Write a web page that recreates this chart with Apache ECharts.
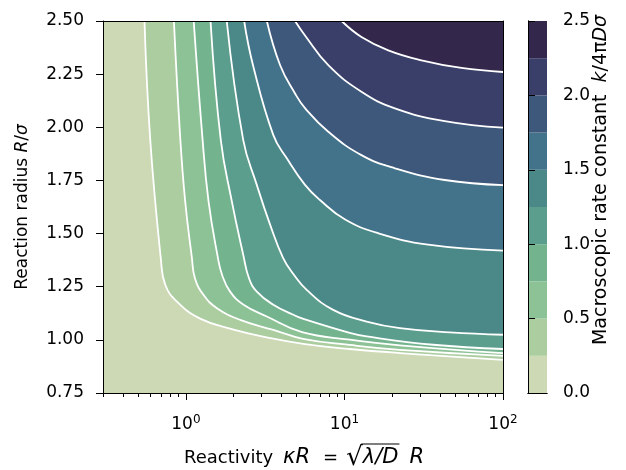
<!DOCTYPE html>
<html>
<head>
<meta charset="utf-8">
<script src="https://cdn.jsdelivr.net/npm/echarts@6/dist/echarts.min.js"></script>
<style>
  html, body { margin: 0; padding: 0; background: #ffffff; }
  #chart { width: 626px; height: 470px; }
</style>
</head>
<body>
<div id="chart"></div>
<script>
// contour levels of k/4πDσ, band colours low -> high
const levels = [0.25, 0.5, 0.75, 1.0, 1.25, 1.5, 1.75, 2.0, 2.25];
const cbBounds = [0, 0.25, 0.5, 0.75, 1.0, 1.25, 1.5, 1.75, 2.0, 2.25, 2.5];
const bandColors = ['#cdd9b5', '#abcd9f', '#8dc296', '#73b48f', '#5b9e8d',
                    '#4b8988', '#43738a', '#3e587c', '#3a3f69', '#33284c'];
const xMajorTicks = [1, 10, 100];
const xMinorTicks = [0.3, 0.4, 0.5, 0.6, 0.7, 0.8, 0.9,
                     2, 3, 4, 5, 6, 7, 8, 9,
                     20, 30, 40, 50, 60, 70, 80, 90];

// contour lines, [kappaR, R/sigma]
const contour025 = [[0.548, 2.5], [0.596, 1.94], [0.696, 1.376], [0.741, 1.259], [0.878, 1.18],
                    [1.23, 1.10], [2.0, 1.048], [3.24, 1.012], [5.64, 0.980], [10.8, 0.957],
                    [22.4, 0.938], [100, 0.906]];
const contour050 = [[0.84, 2.5], [0.92, 1.955], [0.99, 1.65], [1.09, 1.388], [1.14, 1.29],
                    [1.29, 1.212], [1.57, 1.149], [2.2, 1.094], [3.56, 1.047], [5.48, 1.005],
                    [10.8, 0.976], [22.4, 0.953], [100, 0.925]];
const contour075 = [[1.12, 2.5], [1.27, 1.955], [1.39, 1.65], [1.59, 1.388], [1.69, 1.306],
                    [1.90, 1.227], [2.31, 1.165], [3.24, 1.11], [5.4, 1.036], [10.8, 1.001],
                    [22.4, 0.9745], [100, 0.938]];
const contour100 = [[1.43, 2.5], [1.66, 1.94], [1.95, 1.65], [2.30, 1.40], [2.50, 1.29],
                    [2.80, 1.227], [3.56, 1.165], [4.76, 1.118], [5.40, 1.101], [10.8, 1.033],
                    [13.8, 1.016], [36.3, 0.977], [100, 0.957]];
const contour125 = [[1.81, 2.5], [2.3, 1.94], [2.8, 1.729], [3.4, 1.541], [4.1, 1.386],
                    [4.76, 1.310], [5.78, 1.235], [8.49, 1.141], [13.8, 1.086], [22.4, 1.055],
                    [46.2, 1.035], [100, 1.024]];
const contour150 = [[2.33, 2.5], [2.65, 2.292], [3.56, 1.963], [4.33, 1.854], [5.64, 1.729],
                    [7.01, 1.658], [10.1, 1.566], [16.3, 1.502], [33.7, 1.448], [100, 1.42]];
const contour175 = [[3.24, 2.5], [3.93, 2.292], [4.88, 2.159], [5.64, 2.09], [7.91, 1.979],
                    [12.8, 1.869], [20.8, 1.807], [42.9, 1.752], [100, 1.728]];
const contour200 = [[4.88, 2.5], [5.64, 2.432], [7.91, 2.292], [12.8, 2.167], [20.8, 2.089],
                    [42.9, 2.029], [100, 1.998]];
const contour225 = [[9.6, 2.5], [12.8, 2.425], [18.9, 2.362], [30.6, 2.315], [54.7, 2.279],
                    [100, 2.26]];
const contours = [contour025, contour050, contour075, contour100, contour125,
                  contour150, contour175, contour200, contour225];

const FONT = 'DejaVu Sans';
const FS = 17;
const chart = echarts.init(document.getElementById('chart'));

let series = [];
// each contour fills the area above it with the next band colour
contours.forEach((c, i) => {
  series.push({
    name: 'k=' + levels[i],
    type: 'line',
    xAxisIndex: 0,
    yAxisIndex: 0,
    data: c,
    showSymbol: false,
    smooth: 0.45,
    silent: true,
    lineStyle: { color: '#ffffff', width: 1.8 },
    areaStyle: { color: bandColors[i + 1], opacity: 1, origin: 'end' }
  });
});
// colorbar
for (let j = 0; j < bandColors.length; j++) {
  series.push({
    type: 'bar',
    xAxisIndex: 2,
    yAxisIndex: 1,
    stack: 'cb',
    barWidth: '100%',
    silent: true,
    data: [cbBounds[j + 1] - cbBounds[j]],
    itemStyle: { color: bandColors[j] }
  });
}

const tickStyle = { color: '#000', width: 1 };
const labelBase = { fontFamily: FONT, fontSize: FS, color: '#000' };
const italic = { fontFamily: FONT, fontSize: FS, fontStyle: 'italic', color: '#000' };

// x title: pieces [text, token, gap after]; overline over the radicand
const ctx = document.createElement('canvas').getContext('2d');
const tokFont = {
  n: '18px "' + FONT + '"',
  i: 'italic 21px "' + FONT + '"',
  r: '26px "' + FONT + '"'
};
function tw(s, t) { ctx.font = tokFont[t]; return ctx.measureText(s).width; }
const xTitleParts = [['Reactivity', 'n', 10], ['κR', 'i', 13], ['=', 'n', 8],
                     ['√', 'r', 0], ['λ/D', 'i', 11], ['R', 'i', 0]];
let xTitleText = '', xCursor = 0, radEnd = 0, radicandEnd = 0;
const gapRich = {};
xTitleParts.forEach((p, k) => {
  xTitleText += '{' + p[1] + '|' + p[0] + '}';
  xCursor += tw(p[0], p[1]);
  if (p[0] === '√') radEnd = xCursor;
  if (p[0] === 'λ/D') radicandEnd = xCursor;
  if (p[2] > 0) {
    gapRich['g' + k] = { width: p[2], fontSize: FS };
    xTitleText += '{g' + k + '| }';
    xCursor += p[2];
  }
});
const titleCx = 304, titleCy = 458;
const titleX0 = titleCx - xCursor / 2;

chart.setOption({
  animation: false,
  textStyle: { fontFamily: FONT },
  grid: [
    { left: 103, top: 21, width: 400, height: 372, show: true, outerBoundsMode: 'none',
      backgroundColor: bandColors[0], borderWidth: 0 },
    { left: 528, top: 21, width: 19, height: 372, show: false, outerBoundsMode: 'none' }
  ],
  graphic: [
    {
      type: 'text', x: titleX0, y: titleCy, silent: true,
      style: {
        text: xTitleText, align: 'left', verticalAlign: 'middle', fill: '#000',
        rich: Object.assign({
          n: { fontFamily: FONT, fontSize: 18, color: '#000' },
          i: { fontFamily: FONT, fontSize: 21, fontStyle: 'italic', color: '#000' },
          r: { fontFamily: FONT, fontSize: 26, color: '#000' }
        }, gapRich)
      }
    },
    {
      type: 'line', silent: true,
      shape: { x1: titleX0 + radEnd - 1.5, y1: titleCy - 14, x2: titleX0 + radicandEnd + 1, y2: titleCy - 14 },
      style: { stroke: '#000', lineWidth: 1.1 }
    },
    {
      type: 'text', x: 601, y: 180, rotation: Math.PI / 2, silent: true,
      style: {
        text: 'Macroscopic rate constant  {i|k}/4π{i|Dσ}',
        align: 'center', verticalAlign: 'middle', fill: '#000',
        font: '19px "' + FONT + '"',
        rich: { i: { fontFamily: FONT, fontSize: 19, fontStyle: 'italic', color: '#000' } }
      }
    }
  ],
  xAxis: [
    {
      gridIndex: 0, type: 'log', logBase: 10, min: 0.3, max: 100, z: 10,
      axisLine: { show: true, lineStyle: tickStyle },
      axisTick: { show: true, length: 7, customValues: xMajorTicks, lineStyle: tickStyle },
      axisLabel: {
        customValues: xMajorTicks, margin: 21,
        formatter: v => '{b|10}{s|' + Math.round(Math.log10(v)) + '}',
        rich: {
          b: { fontFamily: FONT, fontSize: FS, color: '#000' },
          s: { fontFamily: FONT, fontSize: 12, color: '#000', padding: [0, 0, 9, 0] }
        }
      },
      splitLine: { show: false }
    },
    {
      gridIndex: 0, type: 'log', logBase: 10, min: 0.3, max: 100, position: 'bottom', z: 10,
      axisLine: { show: false },
      axisTick: { show: true, length: 4, customValues: xMinorTicks, lineStyle: tickStyle },
      axisLabel: { show: false },
      splitLine: { show: false }
    },
    { gridIndex: 1, type: 'category', data: [''], show: false },
    {
      gridIndex: 0, type: 'log', min: 0.3, max: 100, position: 'top', z: 10,
      axisLine: { show: true, lineStyle: tickStyle },
      axisTick: { show: false }, axisLabel: { show: false }, splitLine: { show: false }
    },
    {
      gridIndex: 1, type: 'value', min: 0, max: 1, position: 'top', z: 10,
      axisLine: { show: true, lineStyle: tickStyle },
      axisTick: { show: false }, axisLabel: { show: false }, splitLine: { show: false }
    },
    {
      gridIndex: 1, type: 'value', min: 0, max: 1, position: 'bottom', z: 10,
      axisLine: { show: true, lineStyle: tickStyle },
      axisTick: { show: false }, axisLabel: { show: false }, splitLine: { show: false }
    }
  ],
  yAxis: [
    {
      gridIndex: 0, type: 'value', min: 0.75, max: 2.5, interval: 0.25, z: 10,
      axisLine: { show: true, lineStyle: tickStyle },
      axisTick: { show: true, length: 7, lineStyle: tickStyle },
      axisLabel: Object.assign({ margin: 19, formatter: v => v.toFixed(2) }, labelBase),
      splitLine: { show: false },
      name: 'Reaction radius {i|R}/{i|σ}',
      nameLocation: 'middle', nameGap: 72, nameRotate: 90,
      nameTextStyle: Object.assign({ rich: { i: italic } }, labelBase)
    },
    {
      gridIndex: 1, type: 'value', min: 0, max: 2.5, interval: 0.5, position: 'right', z: 10,
      axisLine: { show: true, lineStyle: tickStyle },
      axisTick: { show: true, length: 7, lineStyle: tickStyle },
      axisLabel: Object.assign({ margin: 16, formatter: v => v.toFixed(1) }, labelBase),
      splitLine: { show: false }
    },
    {
      gridIndex: 0, type: 'value', min: 0.75, max: 2.5, position: 'right', z: 10,
      axisLine: { show: true, lineStyle: tickStyle },
      axisTick: { show: false }, axisLabel: { show: false }, splitLine: { show: false }
    },
    {
      gridIndex: 1, type: 'value', min: 0, max: 2.5, position: 'left', z: 10,
      axisLine: { show: true, lineStyle: tickStyle },
      axisTick: { show: false }, axisLabel: { show: false }, splitLine: { show: false }
    }
  ],
  series: series
});
</script>
</body>
</html>
